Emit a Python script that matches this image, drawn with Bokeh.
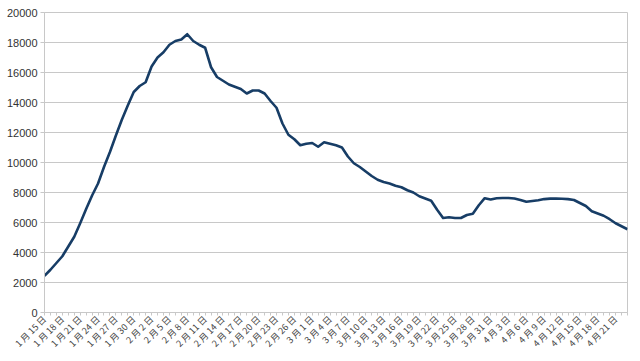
import math
from bokeh.plotting import figure
from bokeh.models import FixedTicker, BasicTickFormatter, Range1d, ColumnDataSource
from bokeh.embed import file_html
from bokeh.resources import INLINE

# dates: Jan 15 .. Apr 23 (non-leap year)
months = [1] * 17 + [2] * 28 + [3] * 31 + [4] * 23
days = list(range(15, 32)) + list(range(1, 29)) + list(range(1, 32)) + list(range(1, 24))
dates = [f"{m} 月 {d} 日" for m, d in zip(months, days)]

values = [
    2450, 2850, 3300, 3750, 4400, 5050, 5950, 6900, 7800, 8600,
    9700, 10700, 11800, 12850, 13800, 14700, 15100, 15350, 16400, 17000,
    17350, 17850, 18100, 18200, 18550, 18100, 17850, 17650, 16350, 15700,
    15450, 15200, 15050, 14900, 14600, 14800, 14800, 14600, 14100, 13650,
    12600, 11850, 11550, 11150, 11250, 11300, 11050, 11350, 11250, 11150,
    11000, 10400, 9950, 9700, 9400, 9100, 8850, 8700, 8600, 8450,
    8350, 8150, 8000, 7750, 7600, 7450, 6850, 6300, 6350, 6300,
    6300, 6500, 6580, 7150, 7620, 7530, 7620, 7630, 7630, 7600,
    7500, 7380, 7430, 7480, 7560, 7590, 7600, 7580, 7560, 7500,
    7300, 7100, 6750, 6600, 6450, 6220, 5950, 5750, 5550,
]

y_ticks = list(range(0, 20001, 2000))
label_step = 3

idx = list(range(len(dates)))
src = ColumnDataSource(dict(x=idx, y=values, date=dates))

p = figure(width=640, height=361, output_backend="svg", toolbar_location=None,
           x_range=Range1d(0, len(dates) - 1), y_range=Range1d(0, 20000),
           min_border_left=44, min_border_right=13, min_border_top=12, min_border_bottom=49)

p.line("x", "y", source=src, line_color="#173d66", line_width=2.6, line_join="round")

grid_col = "#c8c8c8"
p.outline_line_color = grid_col
p.background_fill_color = "white"
p.border_fill_color = "white"

p.xgrid.grid_line_color = None
p.ygrid.grid_line_color = grid_col
p.ygrid.ticker = FixedTicker(ticks=y_ticks)

p.yaxis.ticker = FixedTicker(ticks=y_ticks)
p.yaxis.formatter = BasicTickFormatter(use_scientific=False)
p.yaxis.axis_line_color = grid_col
p.yaxis.major_tick_line_color = grid_col
p.yaxis.major_tick_out = 4
p.yaxis.major_tick_in = 0
p.yaxis.minor_tick_line_color = None
p.yaxis.major_label_text_font = "Liberation Sans"
p.yaxis.major_label_text_font_size = "11px"
p.yaxis.major_label_text_color = "#333333"
p.yaxis.major_label_standoff = 3

p.xaxis.ticker = FixedTicker(ticks=idx)
p.xaxis.major_label_overrides = {i: (dates[i] if i % label_step == 0 else "") for i in idx}
p.xaxis.major_label_orientation = math.pi / 4
p.xaxis.axis_line_color = grid_col
p.xaxis.major_tick_line_color = grid_col
p.xaxis.major_tick_out = 3
p.xaxis.major_tick_in = 0
p.xaxis.minor_tick_line_color = None
p.xaxis.major_label_text_font = "Noto Sans CJK JP"
p.xaxis.major_label_text_font_size = "9px"
p.xaxis.major_label_text_color = "#444444"
p.xaxis.major_label_standoff = 2

open("out.html", "w").write(file_html(p, INLINE))
